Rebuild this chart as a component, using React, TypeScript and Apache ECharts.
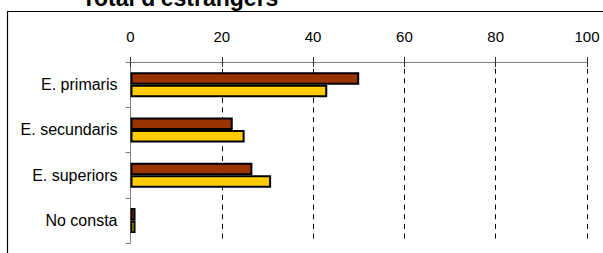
import React, { useEffect, useRef } from "react";
import * as echarts from "echarts";

const categories = ["E. primaris", "E. secundaris", "E. superiors", "No consta"];
const seriesBrown = [50.1, 22.4, 26.7, 1.1];
const seriesYellow = [43.1, 25.0, 30.8, 1.1];
const xTicks = { min: 0, max: 100, interval: 20 };
const titleText = "Total d'estrangers";

const FONT = "'Liberation Sans', Arial, sans-serif";

export default function App() {
  const ref = useRef<HTMLDivElement>(null);
  useEffect(() => {
    if (!ref.current) return;
    const chart = echarts.init(ref.current, undefined, { renderer: "svg" });
    chart.setOption({
      animation: false,
      backgroundColor: "#ffffff",
      textStyle: { fontFamily: FONT },
      grid: { left: 130.5, right: 16, top: 62, bottom: 10, containLabel: false },
      graphic: [
        {
          type: "rect",
          shape: { x: 7.5, y: 11.5, width: 800, height: 400 },
          style: { fill: "none", stroke: "#000", lineWidth: 1.2 },
          z: 1,
        },
        {
          type: "text",
          x: 180,
          y: 9.5,
          style: {
            text: titleText,
            font: `bold 23px ${FONT}`,
            fill: "#000",
            align: "center",
            verticalAlign: "bottom",
          },
        },
      ],
      xAxis: [
        {
          type: "value",
          position: "top",
          min: xTicks.min,
          max: xTicks.max,
          interval: xTicks.interval,
          axisLine: { show: true, lineStyle: { color: "#808080", width: 1 } },
          axisTick: { show: true, length: 5, lineStyle: { color: "#333", width: 1 } },
          axisLabel: { color: "#000", fontSize: 15, fontFamily: FONT, margin: 18 },
          splitLine: {
            show: true,
            showMinLine: false,
            lineStyle: { color: "#000", width: 1, type: [5, 4.7], dashOffset: 3.4 },
          },
        },
        {
          type: "value",
          position: "top",
          min: xTicks.min,
          max: xTicks.max,
          interval: xTicks.interval,
          axisLine: { show: false },
          axisTick: { show: true, inside: true, length: 5, lineStyle: { color: "#333", width: 1 } },
          axisLabel: { show: false },
          splitLine: { show: false },
        },
      ],
      yAxis: {
        type: "category",
        inverse: true,
        data: categories,
        axisLine: { show: true, lineStyle: { color: "#808080", width: 1 } },
        axisTick: { show: true, length: 5, lineStyle: { color: "#808080" } },
        axisLabel: { color: "#000", fontSize: 16, fontFamily: FONT, margin: 13 },
        splitLine: { show: false },
      },
      series: [
        {
          name: "Sèrie 1",
          type: "bar",
          xAxisIndex: 0,
          data: seriesBrown,
          barWidth: 12.5,
          barGap: "0%",
          itemStyle: { color: "#993300", borderColor: "#000", borderWidth: 2 },
        },
        {
          name: "Sèrie 2",
          type: "bar",
          xAxisIndex: 0,
          data: seriesYellow,
          barWidth: 12.5,
          barGap: "0%",
          itemStyle: { color: "#FFCC00", borderColor: "#000", borderWidth: 2 },
        },
      ],
    });
    return () => chart.dispose();
  }, []);
  return (
    <div
      ref={ref}
      style={{ position: "fixed", left: 0, top: 0, width: 603, height: 253 }}
    />
  );
}
